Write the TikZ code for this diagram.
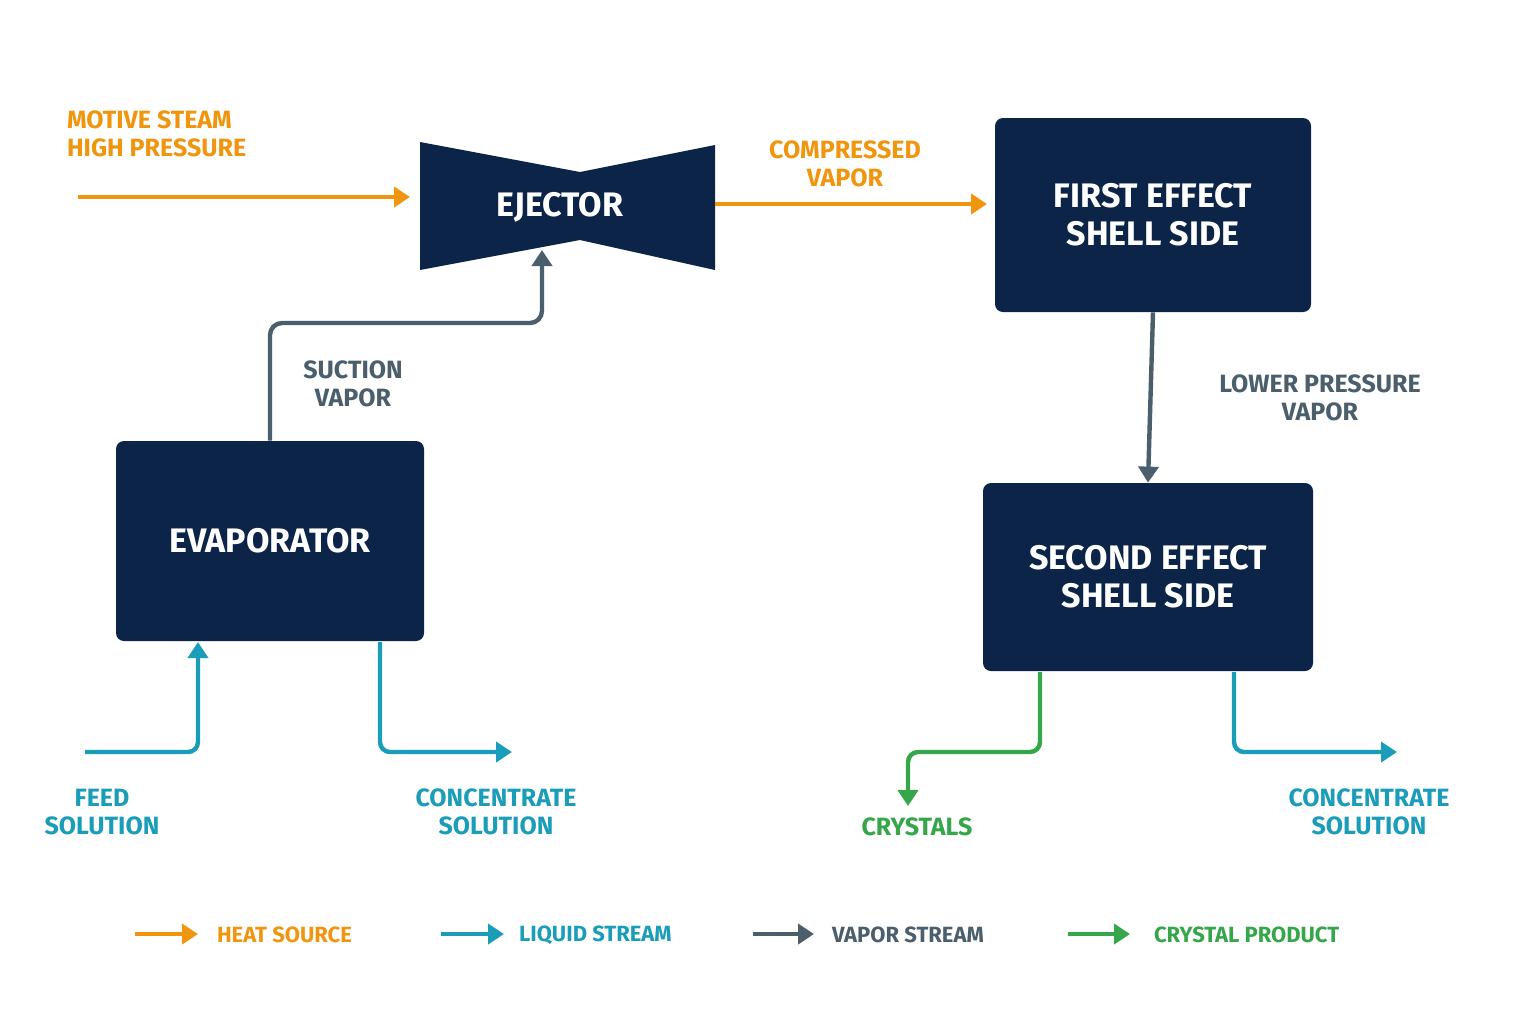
\documentclass[tikz,border=0pt]{standalone}
\usepackage{fontspec}
\setmainfont{Fira Sans}
\usetikzlibrary{arrows.meta}
\definecolor{navy}{HTML}{0B2447}
\definecolor{heat}{HTML}{F0950E}
\definecolor{liquid}{HTML}{1A9DB8}
\definecolor{vapor}{HTML}{4B5E6C}
\definecolor{crystal}{HTML}{36A64A}
\tikzset{
  unit/.style={fill=navy, rounded corners=4pt, text=white, font=\bfseries\fontsize{17}{19}\selectfont, align=center},
  lbl/.style={font=\fontsize{12.5}{14}\selectfont\bfseries, align=center},
  leg/.style={font=\fontsize{11}{13}\selectfont\bfseries, anchor=west},
  flow/.style={line width=2.2pt, -{Triangle[length=8pt,width=10pt]}},
  pipe/.style={line width=2.2pt, rounded corners=4pt}
}
\begin{document}
\begin{tikzpicture}[x=0.5pt,y=-0.5pt]
\useasboundingbox[fill=white] (0,0) rectangle (1536,1024);

% units
\fill[navy] (420,142) -- (580,172) -- (715,145) -- (715,270) -- (580,240) -- (420,270) -- cycle;
\node[text=white, font=\bfseries\fontsize{17}{19}\selectfont] (ejector) at (560,207) {EJECTOR};
\node[unit, minimum width=154pt, minimum height=100pt] (evap) at (270,541) {EVAPORATOR};
\node[unit, minimum width=158pt, minimum height=97pt] (first) at (1153,215) {FIRST EFFECT\\SHELL SIDE};
\node[unit, minimum width=165pt, minimum height=94pt] (second) at (1148,577) {SECOND EFFECT\\SHELL SIDE};

% free ends
\coordinate (motive) at (78,197);
\coordinate (feedin) at (85,752);
\coordinate (conc1) at (512,752);
\coordinate (cryst) at (908,806);
\coordinate (conc2) at (1397,752);

% streams
\draw[flow, heat] (motive) -- (410,197);
\draw[flow, heat] (715,204) -- (987,204);
\draw[flow, vapor, rounded corners=6pt] (evap.north -| 270,441) -- (270,323) -- (542,323) -- (542,250);
\draw[flow, vapor] (first.south) -- (second.north);
\draw[flow, liquid, rounded corners=5pt] (feedin) -- (198,752) -- (198,642);
\draw[flow, liquid, rounded corners=5pt] (380,642) -- (380,752) -- (conc1);
\draw[flow, crystal, rounded corners=5pt] (1040,672) -- (1040,752) -- (908,752) -- (cryst);
\draw[flow, liquid, rounded corners=5pt] (1234,672) -- (1234,752) -- (conc2);

% labels
\node[lbl, text=heat, align=left, anchor=west] (lmotive) at (60,134) {MOTIVE STEAM\\HIGH PRESSURE};
\node[lbl, text=heat] (lcomp) at (845,164) {COMPRESSED\\VAPOR};
\node[lbl, text=vapor] (lsuct) at (353,384) {SUCTION\\VAPOR};
\node[lbl, text=vapor] (llow) at (1320,398) {LOWER PRESSURE\\VAPOR};
\node[lbl, text=liquid] (lfeed) at (102,812) {FEED\\SOLUTION};
\node[lbl, text=liquid] (lconc1) at (496,812) {CONCENTRATE\\SOLUTION};
\node[lbl, text=crystal] (lcryst) at (917,827) {CRYSTALS};
\node[lbl, text=liquid] (lconc2) at (1369,812) {CONCENTRATE\\SOLUTION};

% legend
\draw[flow, heat] (135,934) -- (198,934);
\node[leg, text=heat] (kheat) at (210,935) {HEAT SOURCE};
\draw[flow, liquid] (441,934) -- (504,934);
\node[leg, text=liquid] (kliq) at (512,935) {LIQUID STREAM};
\draw[flow, vapor] (753,934) -- (814,934);
\node[leg, text=vapor] (kvap) at (825,935) {VAPOR STREAM};
\draw[flow, crystal] (1068,934) -- (1130,934);
\node[leg, text=crystal] (kcry) at (1147,935) {CRYSTAL PRODUCT};
\end{tikzpicture}
\end{document}
